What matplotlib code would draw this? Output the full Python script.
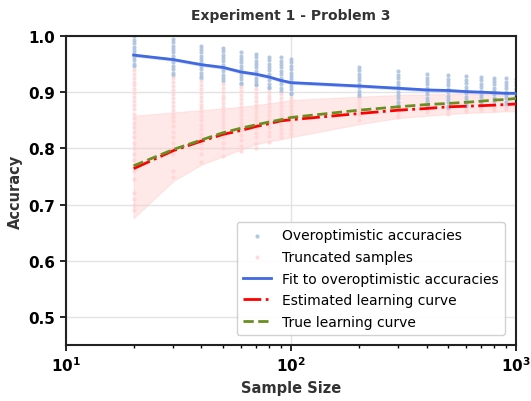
import numpy as np
import matplotlib
matplotlib.use("Agg")
import matplotlib.pyplot as plt

sizes = [20, 30, 40, 50, 60, 70, 80, 90, 100, 200, 300, 400, 500, 600, 700, 800, 900, 1000]

over_acc = {
    20: [1.000, .993, .987, .981, .975, .969, .963, .957, .951, .946],
    30: [.995, .989, .983, .977, .971, .965, .959, .953, .947, .941, .935, .930],
    40: [.983, .977, .971, .965, .959, .953, .947, .941, .935, .929, .925],
    50: [.979, .973, .967, .961, .955, .949, .943, .937, .931, .925, .920],
    60: [.971, .965, .959, .953, .947, .941, .935, .929, .923, .917, .914],
    70: [.968, .962, .956, .950, .944, .938, .932, .926, .920, .914, .912],
    80: [.963, .957, .951, .945, .939, .933, .927, .921, .915, .909, .907],
    90: [.962, .956, .950, .944, .938, .932, .926, .920, .914, .908, .903],
    100: [.959, .953, .947, .941, .935, .929, .923, .917, .911, .905, .899, .896],
    200: [.945, .939, .933, .927, .921, .915, .909, .903, .897, .893],
    300: [.937, .931, .925, .919, .913, .907, .901, .895, .889, .883, .877, .872],
    400: [.932, .926, .920, .914, .908, .902, .896, .890, .884, .878, .875],
    500: [.930, .924, .918, .912, .906, .900, .894, .888, .882, .876, .871],
    600: [.928, .922, .916, .910, .904, .898, .892, .886, .880, .875],
    700: [.927, .921, .915, .909, .903, .897, .891, .885, .879, .877],
    800: [.926, .920, .914, .908, .902, .896, .890, .884, .878],
    900: [.925, .919, .913, .907, .901, .895, .889, .883, .878],
    1000: [.924, .918, .912, .906, .900, .894, .888, .882, .879],
}

trunc_acc = {
    20: [.940, .933, .926, .919, .912, .905, .898, .891, .884, .877, .870, .862, .854, .846, .838, .830,
         .820, .810, .800, .790, .780, .770, .760, .745, .720, .710, .700, .690],
    30: [.925, .918, .911, .904, .897, .890, .883, .876, .869, .862, .855, .848, .840, .830, .820, .810,
         .800, .790, .760, .750],
    40: [.920, .913, .906, .899, .892, .885, .878, .871, .864, .857, .850, .842, .834, .826, .818, .810,
         .800, .790, .775],
    50: [.915, .908, .901, .894, .887, .880, .873, .866, .859, .852, .845, .838, .830, .820, .810, .800, .786],
    60: [.909, .902, .895, .888, .881, .874, .867, .860, .853, .846, .839, .832, .824, .815, .805, .796],
    70: [.906, .899, .892, .885, .878, .871, .864, .857, .850, .843, .836, .828, .820, .810, .800],
    80: [.901, .894, .887, .880, .873, .866, .859, .852, .845, .838, .830, .822, .812],
    90: [.897, .890, .883, .876, .869, .862, .855, .848, .841, .834, .827, .820],
    100: [.890, .883, .876, .869, .862, .855, .848, .841, .834, .825],
    200: [.887, .880, .873, .866, .859, .850],
    300: [.866, .860, .855],
    400: [.869, .864],
    500: [.866, .862],
    600: [.869, .866],
    700: [.872, .868],
    800: [.873, .869],
    900: [.873, .870],
    1000: [.874, .871],
}

fit_curve = [.966, .958, .949, .944, .936, .932, .927, .921, .917, .911, .907, .904, .903, .901, .900, .899, .898, .898]
est_curve = [.764, .796, .813, .825, .832, .839, .844, .849, .851, .862, .868, .871, .874, .875, .876, .877, .878, .879]
true_curve = [.769, .798, .815, .828, .836, .842, .847, .851, .855, .868, .874, .878, .880, .882, .884, .886, .887, .889]
band_hi = [.858, .864, .868, .871, .874, .877, .880, .883, .886, .892, .895, .896, .897, .897, .896, .895, .894, .893]
band_lo = [.676, .742, .771, .786, .798, .807, .813, .816, .820, .843, .854, .858, .861, .863, .864, .865, .866, .866]
fit_hi = [.969, .961, .952, .947, .939, .935, .930, .924, .920, .914, .910, .907, .906, .904, .903, .902, .901, .901]
fit_lo = [.963, .955, .946, .941, .933, .929, .924, .918, .914, .908, .904, .901, .900, .898, .897, .896, .895, .895]

fig = plt.figure(figsize=(5.31, 4.02), dpi=100)
ax = fig.add_axes([0.124, 0.139, 0.848, 0.769])

ax.grid(True, color='#e3e3e3', linewidth=1.0, zorder=0)
ax.set_axisbelow(True)

# scatter strips
bx = [n for n in sizes for _ in over_acc[n]]
by = [v for n in sizes for v in over_acc[n]]
px = [n for n in sizes for _ in trunc_acc[n]]
py = [v for n in sizes for v in trunc_acc[n]]
ax.scatter(bx, by, s=9, color='#a8bedc', alpha=0.85, linewidths=0, label='Overoptimistic accuracies', zorder=2)
ax.scatter(px, py, s=9, color='#ffd3d3', alpha=0.8, linewidths=0, label='Truncated samples', zorder=2)

# uncertainty bands
ax.fill_between(sizes, band_lo, band_hi, color='#ffcccc', alpha=0.45, linewidth=0.8, edgecolor='#ffcccc', zorder=1)
ax.fill_between(sizes, fit_lo, fit_hi, color='#aabbee', alpha=0.5, linewidth=0, zorder=3)

ax.plot(sizes, fit_curve, color='royalblue', lw=2, label='Fit to overoptimistic accuracies', zorder=4)
ax.plot(sizes, est_curve, color='red', lw=2, ls='-.', label='Estimated learning curve', zorder=5)
ax.plot(sizes, true_curve, color='olivedrab', lw=2, ls='--', label='True learning curve', zorder=5)

ax.set_xscale('log')
ax.set_xlim(10, 1000)
ax.set_ylim(0.45, 1.0)
ax.set_yticks([0.5, 0.6, 0.7, 0.8, 0.9, 1.0])

for lab in ax.get_xticklabels() + ax.get_yticklabels():
    lab.set_fontweight('bold')
ax.tick_params(axis='both', which='major', labelsize=11, length=4, width=1.2)
ax.tick_params(axis='x', which='minor', length=2.5, width=1)
for sp in ax.spines.values():
    sp.set_color('#222222')
    sp.set_linewidth(1.5)

ax.set_title('Experiment 1 - Problem 3', fontsize=10, fontweight='bold', color='#333333', pad=12)
ax.set_xlabel('Sample Size', fontsize=10.5, fontweight='bold', color='#333333', labelpad=4)
ax.set_ylabel('Accuracy', fontsize=10.5, fontweight='bold', color='#333333')

ax.legend(loc='lower right', fontsize=10, framealpha=0.9, borderpad=0.45,
          labelspacing=0.55, handlelength=2.0, markerscale=1.0,
          bbox_to_anchor=(0.99, 0.01))

fig.savefig('out.png', dpi=100)
